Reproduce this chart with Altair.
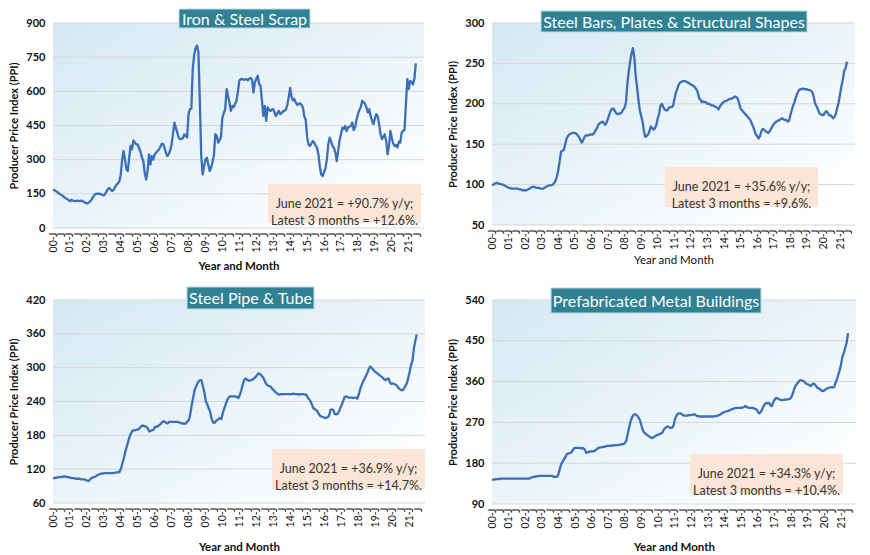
import altair as alt
import pandas as pd

FONT = "Lato"

# ---------------- data (monthly, Jan 2000 .. Jun 2021) ----------------
scrap = [
    169, 166, 162, 158, 153, 148, 145, 140, 135, 131, 128, 122,  # 2000
    118, 124, 120, 119, 118, 120, 119, 118, 120, 118, 114, 110,  # 2001
    108, 110, 115, 122, 132, 142, 149, 151, 150, 151, 148, 145,  # 2002
    143, 150, 162, 172, 176, 168, 162, 168, 180, 190, 196, 205,  # 2003
    235, 300, 338, 300, 257, 250, 310, 360, 345, 385, 375, 367,  # 2004
    367, 350, 335, 310, 294, 240, 213, 250, 323, 279, 316, 300,  # 2005
    323, 330, 338, 345, 355, 370, 368, 353, 330, 316, 325, 340,  # 2006
    367, 412, 463, 441, 420, 397, 390, 390, 395, 411, 404, 397,  # 2007
    500, 522, 525, 700, 760, 790, 801, 772, 560, 320, 235, 270,  # 2008
    301, 309, 279, 250, 265, 290, 320, 412, 404, 375, 385, 400,  # 2009
    485, 505, 522, 610, 580, 551, 514, 536, 530, 545, 559, 600,  # 2010
    647, 654, 655, 650, 652, 654, 648, 655, 659, 650, 595, 639,  # 2011
    655, 669, 632, 625, 559, 492, 536, 470, 529, 520, 514, 520,  # 2012
    522, 505, 492, 505, 514, 500, 505, 512, 515, 520, 540, 575,  # 2013
    615, 575, 560, 566, 550, 540, 545, 548, 540, 530, 490, 475,  # 2014
    400, 367, 360, 370, 382, 375, 362, 353, 323, 270, 235, 228,  # 2015
    245, 262, 301, 367, 397, 380, 360, 352, 331, 294, 340, 385,  # 2016
    412, 441, 434, 448, 426, 441, 445, 448, 463, 430, 441, 475,  # 2017
    500, 518, 530, 559, 552, 545, 530, 507, 522, 492, 470, 456,  # 2018
    480, 500, 490, 456, 412, 390, 400, 412, 382, 323, 360, 426,  # 2019
    395, 370, 360, 365, 353, 379, 375, 419, 426, 430, 544, 654,  # 2020
    610, 645, 642, 630, 655, 723,                                # 2021
]
bars = [
    99, 100, 101, 102, 102, 101, 101, 100, 100, 99, 98, 97,
    96, 96, 95, 95, 95, 95, 95, 95, 94, 94, 93, 93,
    93, 93, 94, 95, 96, 97, 97, 97, 96, 96, 96, 95,
    95, 95, 96, 97, 98, 99, 99, 99, 100, 102, 105, 110,
    118, 129, 141, 142, 143, 150, 157, 160, 162, 163, 164, 164,
    164, 163, 161, 159, 155, 152, 155, 159, 161, 161, 161, 162,
    162, 162, 164, 167, 170, 174, 176, 177, 178, 176, 174, 177,
    182, 187, 192, 194, 194, 191, 188, 187, 188, 188, 190, 193,
    195, 202, 225, 240, 252, 262, 269, 258, 235, 221, 205, 192,
    185, 178, 166, 159, 160, 162, 166, 172, 170, 168, 170, 174,
    182, 188, 198, 200, 196, 193, 192, 192, 195, 196, 196, 197,
    205, 213, 218, 223, 226, 227, 228, 228, 228, 227, 226, 225,
    224, 223, 222, 220, 218, 214, 207, 205, 202, 203, 202, 202,
    200, 200, 199, 198, 198, 197, 196, 195, 193, 197, 199, 201,
    203, 203, 204, 205, 206, 206, 207, 208, 209, 208, 206, 200,
    194, 192, 190, 188, 186, 184, 182, 180, 176, 172, 167, 162,
    160, 157, 160, 166, 169, 168, 166, 165, 164, 166, 169, 172,
    175, 177, 178, 179, 180, 181, 182, 181, 180, 180, 178, 179,
    186, 192, 198, 202, 208, 213, 216, 218, 218, 219, 218, 218,
    218, 217, 217, 216, 214, 208, 200, 197, 193, 188, 187, 186,
    186, 189, 191, 189, 186, 186, 184, 182, 184, 188, 195, 202,
    212, 222, 230, 241, 244, 252,
]
pipe = [
    104, 104, 105, 105, 106, 106, 106, 107, 107, 107, 106, 106,
    105, 104, 104, 104, 103, 103, 103, 103, 102, 102, 102, 101,
    100, 99, 101, 104, 105, 106, 107, 109, 110, 111, 112, 112,
    113, 113, 113, 113, 113, 113, 113, 113, 114, 114, 115, 115,
    121, 130, 139, 150, 159, 168, 177, 183, 188, 189, 189, 190,
    190, 192, 195, 197, 197, 196, 195, 192, 187, 188, 189, 190,
    195, 195, 196, 198, 200, 203, 205, 204, 202, 201, 204, 204,
    204, 204, 204, 204, 204, 203, 202, 201, 201, 201, 201, 205,
    207, 218, 234, 246, 260, 266, 272, 276, 278, 277, 266, 255,
    240, 235, 228, 222, 210, 203, 202, 205, 207, 209, 211, 209,
    220, 228, 235, 242, 247, 249, 249, 249, 249, 249, 248, 246,
    252, 260, 270, 278, 281, 279, 277, 277, 278, 279, 281, 283,
    286, 290, 289, 287, 284, 280, 274, 270, 268, 267, 266, 262,
    260, 257, 255, 253, 252, 253, 253, 253, 253, 253, 253, 253,
    253, 253, 254, 253, 253, 253, 252, 253, 253, 253, 252, 252,
    247, 244, 240, 234, 228, 226, 225, 222, 217, 214, 213, 212,
    211, 211, 212, 215, 225, 226, 225, 218, 217, 218, 222, 229,
    234, 241, 248, 249, 248, 247, 247, 247, 246, 247, 247, 245,
    252, 262, 269, 275, 280, 285, 290, 297, 302, 300, 297, 294,
    292, 290, 288, 286, 284, 282, 279, 278, 280, 281, 274, 271,
    272, 271, 270, 268, 264, 262, 260, 260, 263, 268, 272, 282,
    293, 305, 313, 335, 348, 359,
]
prefab = [
    143, 144, 144, 145, 145, 145, 146, 146, 146, 146, 146, 146,
    146, 146, 146, 146, 146, 146, 146, 146, 146, 146, 146, 146,
    146, 146, 146, 146, 148, 149, 150, 150, 151, 151, 152, 152,
    152, 152, 152, 152, 152, 152, 152, 152, 151, 150, 150, 150,
    156, 168, 178, 183, 189, 193, 200, 201, 202, 203, 207, 212,
    214, 214, 214, 214, 213, 213, 213, 210, 203, 204, 205, 206,
    206, 206, 207, 209, 212, 214, 215, 215, 216, 216, 217, 218,
    218, 218, 219, 219, 219, 220, 220, 220, 221, 221, 222, 222,
    225, 230, 245, 258, 272, 280, 286, 288, 287, 284, 280, 273,
    262, 252, 247, 245, 242, 240, 238, 236, 236, 238, 240, 242,
    243, 244, 246, 247, 254, 257, 260, 261, 259, 258, 258, 262,
    276, 284, 289, 290, 290, 288, 286, 285, 285, 285, 286, 286,
    286, 287, 288, 286, 284, 284, 283, 283, 283, 283, 283, 283,
    283, 283, 283, 283, 283, 284, 284, 285, 286, 288, 290, 292,
    293, 294, 295, 296, 297, 299, 300, 301, 302, 302, 302, 302,
    302, 303, 304, 306, 304, 302, 302, 302, 302, 301, 300, 299,
    293, 290, 293, 298, 306, 310, 313, 312, 313, 308, 306, 314,
    320, 324, 323, 322, 320, 319, 319, 320, 320, 321, 321, 322,
    325, 332, 342, 350, 354, 358, 362, 363, 362, 361, 358, 355,
    354, 353, 350, 353, 356, 354, 350, 346, 345, 343, 340, 339,
    341, 343, 345, 346, 347, 348, 347, 348, 357, 364, 375, 385,
    398, 415, 423, 434, 445, 467,
]

scrap_ticks = [0, 150, 300, 450, 600, 750, 900]
bars_ticks = [50, 100, 150, 200, 250, 300]
pipe_ticks = [60, 120, 180, 240, 300, 360, 420]
prefab_ticks = [90, 180, 270, 360, 450, 540]

titles = ["Iron & Steel Scrap", "Steel Bars, Plates & Structural Shapes",
          "Steel Pipe & Tube", "Prefabricated Metal Buildings"]
notes = [
    ["June 2021 = +90.7% y/y;", "Latest 3 months = +12.6%."],
    ["June 2021 = +35.6% y/y;", "Latest 3 months = +9.6%."],
    ["June 2021 = +36.9% y/y;", "Latest 3 months = +14.7%."],
    ["June 2021 = +34.3% y/y;", "Latest 3 months = +10.4%."],
]
x_ticks = [2000 + k * 0.5 for k in range(44)]

GRAD = alt.LinearGradient(
    gradient="linear",
    stops=[alt.GradientStop(color="#d4e8f2", offset=0),
           alt.GradientStop(color="#e8f3f8", offset=0.45),
           alt.GradientStop(color="#ffffff", offset=0.92)],
    x1=0, y1=0, x2=1, y2=1,
)
TEAL = "#2f8193"


def panel(vals, yticks, w, h, title, tbox, note, nbox, xtitle_weight="bold", xtitle_pad=6):
    df = pd.DataFrame({"t": [2000 + i / 12 for i in range(len(vals))], "v": vals})
    one = alt.Data(values=[{"a": 1}])
    yenc = alt.Y(
        "v:Q",
        scale=alt.Scale(domain=[yticks[0], yticks[-1]], nice=False, zero=False),
        axis=alt.Axis(values=yticks, grid=False, domain=False, ticks=False,
                      labelFont=FONT, labelFontSize=11, labelFontWeight="bold",
                      labelColor="#111111", labelPadding=8,
                      title="Producer Price Index (PPI)", titleFont=FONT,
                      titleFontSize=11, titleFontWeight="bold", titleColor="#111111",
                      titlePadding=6),
    )
    xenc = alt.X(
        "t:Q",
        scale=alt.Scale(domain=[2000, 2021.9], nice=False, zero=False),
        axis=alt.Axis(values=x_ticks,
                      labelExpr="datum.value % 1 == 0 ? slice(toString(datum.value), 2) + '-J' : 'J'",
                      labelAngle=-90, labelOverlap=False, labelFlush=False,
                      grid=False, domain=False, ticks=False,
                      labelFont=FONT, labelFontSize=10.5, labelColor="#111111", labelPadding=4,
                      title="Year and Month", titleFont=FONT, titleFontSize=11.5,
                      titleFontWeight=xtitle_weight, titleColor="#111111",
                      titlePadding=xtitle_pad),
    )
    bg = alt.Chart(one).mark_rect(fill=GRAD).encode(
        x=alt.value(0), x2=alt.value(w), y=alt.value(0), y2=alt.value(h))
    grid = alt.Chart(pd.DataFrame({"v": yticks})).mark_rule(
        color="#d6d6d6", strokeWidth=1).encode(y=yenc)
    line = alt.Chart(df).mark_line(color="#3b6fb6", strokeWidth=2.3,
                                   strokeJoin="round").encode(x=xenc, y=yenc)
    nrect = alt.Chart(one).mark_rect(fill="#fbe5d6").encode(
        x=alt.value(nbox[0]), x2=alt.value(nbox[1]),
        y=alt.value(nbox[2]), y2=alt.value(nbox[3]))
    ntext = alt.Chart(one).mark_text(
        text=note, font=FONT, fontSize=12.5, color="#333333", lineHeight=17,
        align="center", baseline="middle").encode(
        x=alt.value((nbox[0] + nbox[1]) / 2), y=alt.value((nbox[2] + nbox[3]) / 2))
    trect = alt.Chart(one).mark_rect(fill=TEAL, stroke="#b9dde6", strokeWidth=1).encode(
        x=alt.value(tbox[0]), x2=alt.value(tbox[1]),
        y=alt.value(tbox[2]), y2=alt.value(tbox[3]))
    ttext = alt.Chart(one).mark_text(
        text=title, font=FONT, fontSize=16, color="white",
        align="center", baseline="middle").encode(
        x=alt.value((tbox[0] + tbox[1]) / 2), y=alt.value((tbox[2] + tbox[3]) / 2 + 1))
    return alt.layer(bg, grid, line, nrect, ntext, trect, ttext).properties(width=w, height=h)


p1 = panel(scrap, scrap_ticks, 371, 205, titles[0], (126, 257, -14, 5), notes[0],
           (215, 368, 161, 200), xtitle_pad=9)
p2 = panel(bars, bars_ticks, 363, 202, titles[1], (49, 315, -12, 9), notes[1],
           (173, 326, 144, 184), xtitle_weight="normal", xtitle_pad=6)
p3 = panel(pipe, pipe_ticks, 372, 203, titles[2], (134, 261, -13, 9), notes[2],
           (219, 372, 149, 189), xtitle_pad=15)
p4 = panel(prefab, prefab_ticks, 364, 204, titles[3], (59, 269, -12, 13), notes[3],
           (198, 351, 154, 194), xtitle_pad=14)

chart = alt.concat(
    p1, p2, p3, p4, columns=2,
    spacing=alt.RowColnumber(row=72, column=67),
    bounds="flush", align="each",
).properties(padding=0, background="white").configure_view(stroke=None)

chart.save("out.html", embed_options={"renderer": "svg", "actions": False})
